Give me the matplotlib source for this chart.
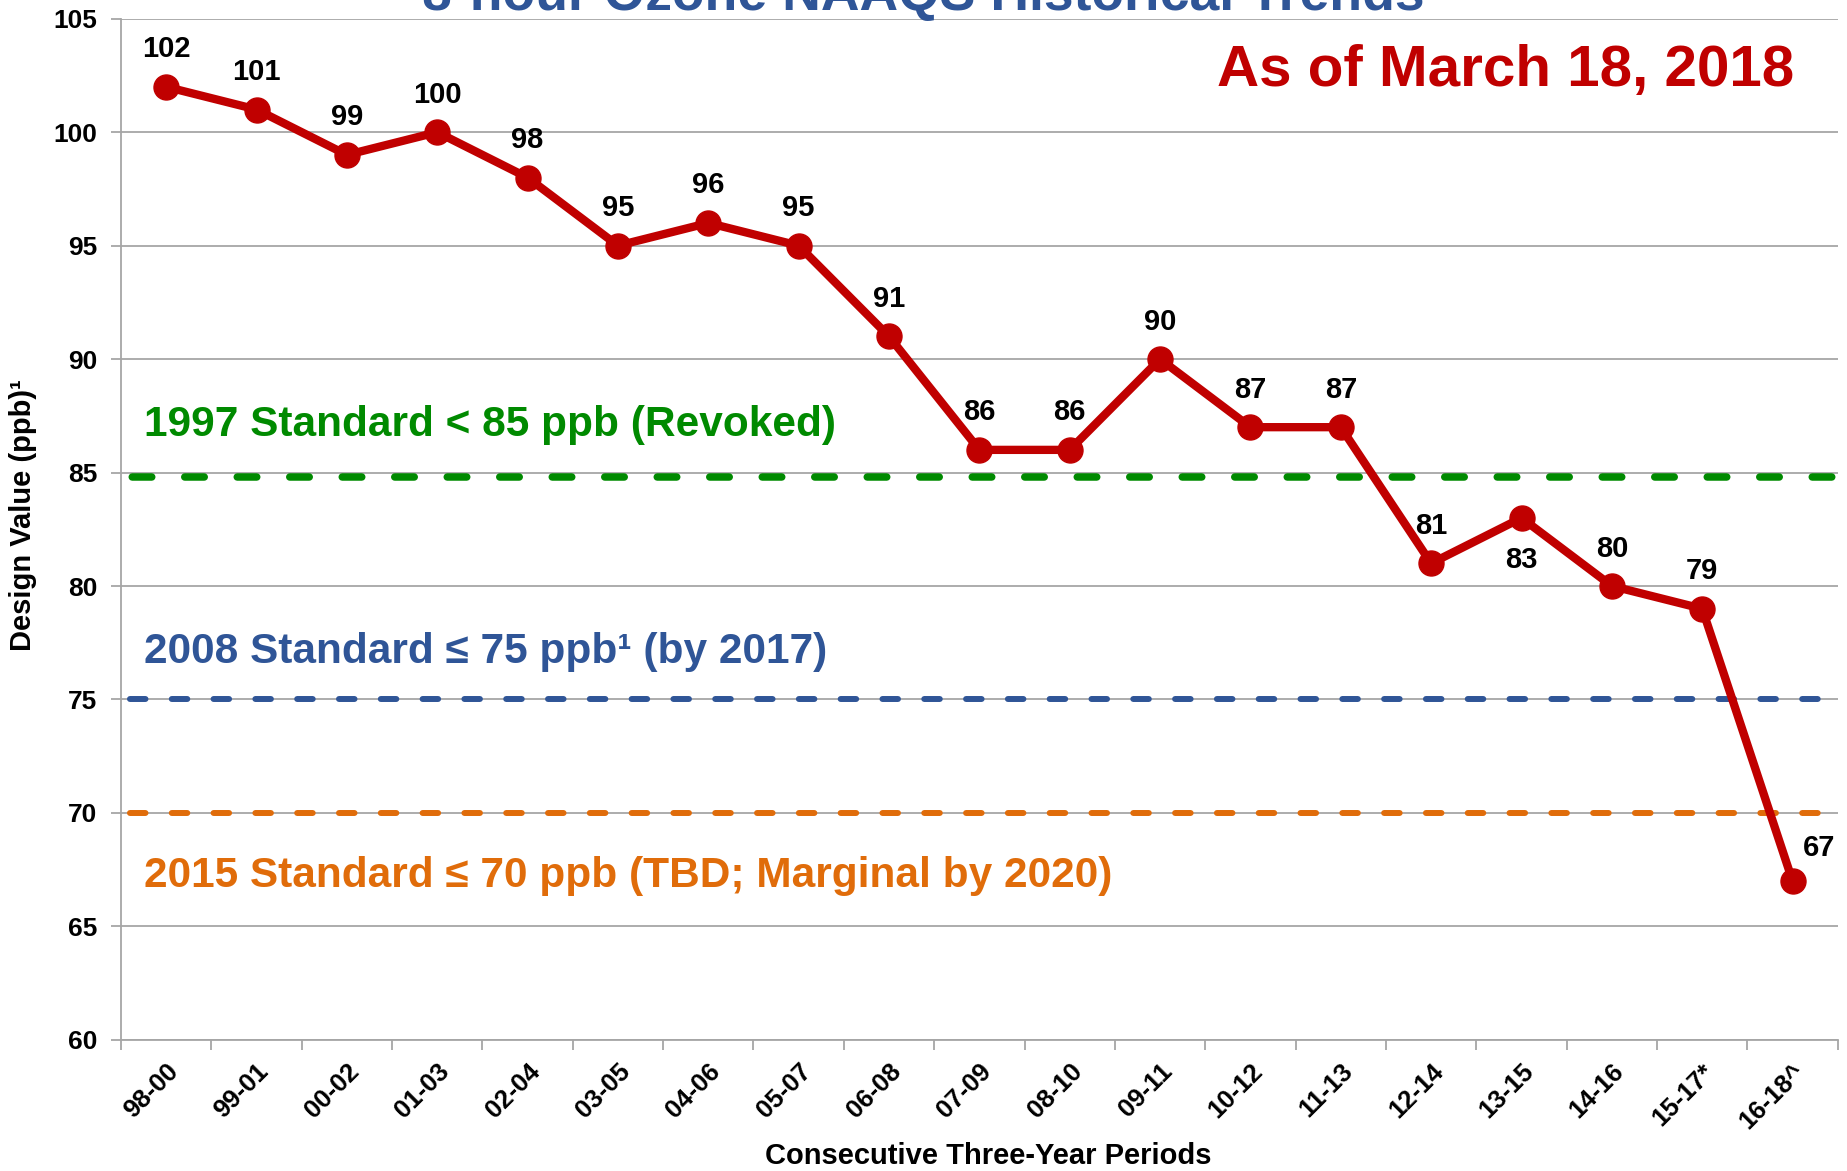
import matplotlib
matplotlib.use("Agg")
import matplotlib.pyplot as plt

plt.rcParams["font.family"] = ["Liberation Sans", "DejaVu Sans"]
plt.rcParams["font.weight"] = "bold"

# ---- data ----
periods = ["98-00", "99-01", "00-02", "01-03", "02-04", "03-05", "04-06",
           "05-07", "06-08", "07-09", "08-10", "09-11", "10-12", "11-13",
           "12-14", "13-15", "14-16", "15-17*", "16-18^"]
design_values = [102, 101, 99, 100, 98, 95, 96, 95, 91, 86, 86, 90, 87, 87,
                 81, 83, 80, 79, 67]

std_levels = [84.8, 75, 70]
std_labels = ["1997 Standard < 85 ppb (Revoked)",
              "2008 Standard \u2264 75 ppb\u00b9 (by 2017)",
              "2015 Standard \u2264 70 ppb (TBD; Marginal by 2020)"]
std_label_y = [87.1, 77.1, 67.2]
std_colors = ["#008A00", "#2F5597", "#E06C0A"]
std_widths = [5.4, 4.3, 4.3]

RED = "#C00000"
GRID = "#A6A6A6"

fig = plt.figure(figsize=(18.47, 11.71), dpi=100)
ax = fig.add_axes([0.0655, 0.112, 0.9295, 0.872])

x = list(range(len(periods)))

# horizontal gridlines
ax.set_ylim(60, 105)
ax.set_yticks(range(60, 106, 5))
ax.yaxis.grid(True, color=GRID, linewidth=1.3, zorder=0)
ax.set_axisbelow(True)

# standards (dashed)
for lvl, c, lw in zip(std_levels, std_colors, std_widths):
    ax.axhline(lvl, color=c, linewidth=lw, linestyle=(-1.5, (2.6, 4.4)),
               dash_capstyle="round", zorder=2)
for txt, yy, c in zip(std_labels, std_label_y, std_colors):
    ax.text(-0.25, yy, txt, color=c, fontsize=30.5, fontweight="bold",
            ha="left", va="center", zorder=3)

# trend line
ax.plot(x, design_values, color=RED, linewidth=6, marker="o",
        markersize=18, zorder=4, solid_capstyle="round")

# value labels
for i, v in enumerate(design_values):
    if periods[i] == "13-15":
        off = (0, -30)
    elif periods[i] == "16-18^":
        off = (19, 24)
    else:
        off = (0, 27)
    ax.annotate(str(v), (i, v), xytext=off, textcoords="offset points",
                ha="center", va="center", fontsize=21, fontweight="bold",
                color="black", zorder=5)

ax.text(18.02, 102.7, "As of March 18, 2018", color=RED, fontsize=42,
        fontweight="bold", ha="right", va="center")

# axes styling
ax.set_xlim(-0.5, len(periods) - 0.5)
ax.set_xticks([i - 0.5 for i in range(len(periods) + 1)])
ax.set_xticklabels([])
ax.set_xticks(x, minor=True)
ax.set_xticklabels(periods, minor=True, rotation=45, ha="right",
                   rotation_mode="anchor", fontsize=18.5, fontweight="bold")
ax.tick_params(axis="x", which="minor", length=0, pad=14)
ax.tick_params(axis="x", which="major", length=7, color=GRID, width=1.3)
ax.tick_params(axis="y", length=7, color=GRID, width=1.3, labelsize=19,
               pad=10)
for lab in ax.get_yticklabels():
    lab.set_fontweight("bold")

for side in ["top", "right"]:
    ax.spines[side].set_visible(False)
for side in ["left", "bottom"]:
    ax.spines[side].set_color(GRID)
    ax.spines[side].set_linewidth(1.3)

ax.set_xlabel("Consecutive Three-Year Periods", fontsize=21,
              fontweight="bold", va="center")
ax.xaxis.set_label_coords(0.505, -0.114)
ax.set_ylabel("Design Value (ppb)\u00b9", fontsize=21, fontweight="bold",
              va="center")
ax.yaxis.set_label_coords(-0.057, 0.514)

# title, clipped by the top edge as in the source slide
fig.text(0.5, 0.9915, "8-hour Ozone NAAQS Historical Trends", color="#2F5597",
         fontsize=38.5, fontweight="bold", ha="center", va="baseline")

fig.savefig("out.png", dpi=100)
